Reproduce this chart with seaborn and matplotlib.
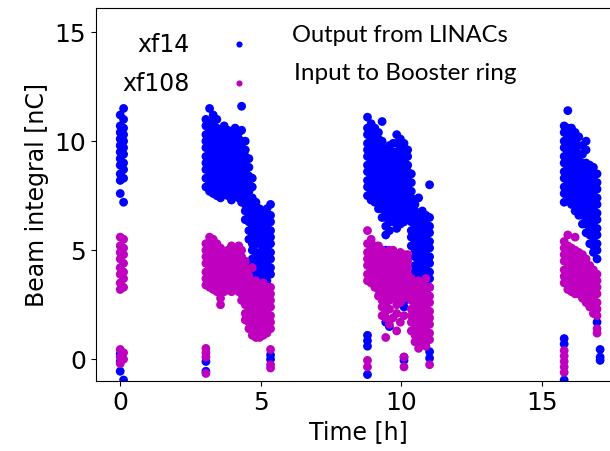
import numpy as np
import pandas as pd
import seaborn as sns
import matplotlib.pyplot as plt

r1_t = [0.0, 0.12]
r1_xf14 = [
    [7.6, 8.2, 8.5, 8.9, 9.2, 9.5, 9.8, 10.1, 10.4, 10.7, 11.2, -0.1, -0.55, 0.25],
    [7.2, 8.3, 8.7, 9.0, 9.4, 9.7, 10.0, 10.3, 10.6, 11.0, 11.5, -0.95],
]
r1_xf108 = [
    [3.2, 3.5, 3.9, 4.2, 4.6, 4.9, 5.2, 5.6, 0.45, 0.1, -0.2],
    [3.3, 3.7, 4.0, 4.4, 4.8, 5.1, 5.5, 0.3, 0.0],
]

r2_t = [3.05, 3.18, 3.31, 3.44, 3.57, 3.70, 3.83, 3.96, 4.09, 4.22,
        4.32, 4.45, 4.58, 4.70, 4.83, 4.96, 5.09, 5.22, 5.35]
r2_xf14 = [
    [7.9, 8.3, 8.7, 9.0, 9.3, 9.7, 10.0, 10.3, 10.7, 11.0, -0.1, -0.55],
    [7.7, 8.1, 8.4, 8.8, 9.1, 9.5, 9.8, 10.2, 10.5, 10.9, 11.5],
    [7.6, 8.0, 8.4, 8.7, 9.0, 9.4, 9.7, 10.1, 10.4, 10.8, 11.2],
    [7.5, 7.9, 8.2, 8.6, 8.9, 9.3, 9.6, 9.9, 10.3, 10.6, 11.0],
    [7.4, 7.8, 8.1, 8.5, 8.8, 9.2, 9.5, 9.8, 10.2, 10.5],
    [7.6, 8.0, 8.3, 8.7, 9.0, 9.4, 9.7, 10.0, 10.4, 10.7],
    [7.5, 7.9, 8.2, 8.6, 8.9, 9.2, 9.6, 9.9, 10.3, 10.5],
    [7.3, 7.7, 8.1, 8.4, 8.7, 9.1, 9.4, 9.8, 10.1, 10.4],
    [7.5, 7.9, 8.2, 8.6, 8.9, 9.3, 9.6, 9.9, 10.3, 10.6],
    [7.4, 7.8, 8.1, 8.5, 8.8, 9.1, 9.5, 9.8, 10.1, 10.4],
    [7.2, 7.6, 8.0, 8.3, 8.7, 9.0, 9.4, 9.7, 10.0, 10.5, 11.6],
    [6.4, 6.8, 7.1, 7.5, 7.9, 8.2, 8.6, 8.9, 9.3, 9.6, 10.0],
    [5.5, 5.9, 6.3, 6.6, 7.0, 7.3, 7.7, 8.0, 8.4, 8.8, 9.2],
    [4.3, 4.6, 5.0, 5.3, 5.7, 6.0, 6.4, 6.8, 7.1, 7.4, 7.9, 8.3],
    [3.6, 3.9, 4.2, 4.6, 4.9, 5.3, 5.6, 6.0, 6.3, 6.7, 7.0, 7.2],
    [3.6, 3.9, 4.3, 4.6, 4.9, 5.3, 5.6, 5.9, 6.3, 6.6, 6.9],
    [3.7, 4.0, 4.3, 4.7, 5.0, 5.4, 5.7, 6.1, 6.4, 6.7],
    [3.6, 4.0, 4.4, 4.7, 5.1, 5.4, 5.8, 6.1, 6.5, 6.9],
    [3.9, 4.2, 4.6, 4.9, 5.3, 5.6, 5.9, 6.3, 6.6, 7.1, 0.2, 0.0],
]
r2_xf108 = [
    [3.4, 3.7, 4.0, 4.4, 4.7, 5.0, 5.3, 0.5, 0.3, 0.1, -0.65],
    [3.3, 3.6, 3.9, 4.2, 4.6, 4.9, 5.2, 5.6],
    [3.2, 3.5, 3.8, 4.2, 4.5, 4.8, 5.1, 5.5],
    [3.1, 3.4, 3.7, 4.1, 4.4, 4.7, 5.0, 5.3],
    [2.5, 2.8, 3.2, 3.5, 3.8, 4.1, 4.5, 4.8, 5.1],
    [3.1, 3.4, 3.8, 4.1, 4.4, 4.7, 4.9],
    [3.2, 3.5, 3.8, 4.1, 4.4, 4.7, 5.0],
    [3.1, 3.4, 3.7, 4.0, 4.4, 4.7, 5.0, 5.2],
    [3.2, 3.5, 3.8, 4.2, 4.5, 4.8, 5.1],
    [3.1, 3.4, 3.8, 4.1, 4.4, 4.8, 5.2],
    [2.7, 3.0, 3.4, 3.7, 4.0, 4.4, 4.7, 5.0],
    [1.8, 2.1, 2.5, 2.8, 3.2, 3.5, 3.8, 4.2, 4.5],
    [1.4, 1.7, 2.1, 2.4, 2.8, 3.1, 3.4, 3.8, 4.1],
    [1.1, 1.4, 1.8, 2.1, 2.5, 2.8, 3.1, 3.5, 4.2],
    [1.0, 1.3, 1.6, 2.0, 2.3, 2.6, 3.0, 3.3, 3.6],
    [1.0, 1.3, 1.7, 2.0, 2.3, 2.7, 3.0, 3.4],
    [1.1, 1.4, 1.8, 2.1, 2.5, 2.8, 3.1, 3.5],
    [1.2, 1.5, 1.9, 2.2, 2.6, 2.9, 3.3],
    [1.4, 1.7, 2.0, 2.4, 2.7, 3.0, 3.3, 0.45, -0.25, -0.4],
]

r3_t = [8.80, 8.93, 9.06, 9.19, 9.32, 9.45, 9.58, 9.71, 9.84, 9.97,
        10.10, 10.23, 10.36, 10.49, 10.62, 10.75, 10.88, 11.01]
r3_xf14 = [
    [7.5, 7.9, 8.2, 8.6, 8.9, 9.3, 9.6, 9.9, 10.3, 10.6, 11.1, 1.1, 0.85, 0.6, -0.7],
    [7.3, 7.7, 8.0, 8.4, 8.7, 9.1, 9.4, 9.8, 10.1, 10.5, 10.8],
    [7.2, 7.5, 7.9, 8.2, 8.6, 8.9, 9.3, 9.6, 10.0, 10.3, 10.6],
    [6.9, 7.3, 7.6, 8.0, 8.3, 8.7, 9.0, 9.4, 9.7, 10.1, 10.4],
    [6.5, 6.9, 7.2, 7.6, 7.9, 8.3, 8.6, 9.0, 9.3, 9.7, 10.0, 10.9],
    [5.7, 6.1, 6.5, 6.8, 7.2, 7.5, 7.9, 8.2, 8.6, 8.9, 9.3, 9.6, 5.0, 1.7],
    [5.9, 6.3, 6.6, 7.0, 7.3, 7.7, 8.0, 8.4, 8.7, 9.1, 9.4, 9.8, 1.5],
    [6.3, 6.7, 7.0, 7.4, 7.7, 8.1, 8.4, 8.8, 9.1, 9.5, 9.9],
    [6.0, 6.4, 6.7, 7.1, 7.4, 7.8, 8.1, 8.5, 8.8, 9.2, 9.5, 9.9, 10.3],
    [6.2, 6.5, 6.9, 7.2, 7.6, 7.9, 8.3, 8.6, 9.0, 9.3, 9.7, 10.1],
    [6.3, 6.7, 7.0, 7.4, 7.7, 8.1, 8.4, 8.8, 9.1, 9.5, 9.9, 2.4, 2.65, 0.1, -0.05],
    [6.5, 6.8, 7.2, 7.5, 7.9, 8.2, 8.6, 8.9, 9.3, 9.6],
    [5.2, 5.6, 5.9, 6.3, 6.6, 7.0, 7.4, 7.7, 8.1, 8.5],
    [3.3, 3.6, 4.0, 4.3, 4.7, 5.0, 5.4, 5.7, 6.1, 6.4, 6.8, 7.1],
    [3.0, 3.3, 3.7, 4.0, 4.4, 4.7, 5.1, 5.4, 5.8, 6.1, 6.5, 7.4],
    [2.9, 3.2, 3.6, 3.9, 4.3, 4.6, 5.0, 5.3, 5.7, 6.0, 6.4, 6.8],
    [3.0, 3.4, 3.7, 4.1, 4.4, 4.8, 5.1, 5.5, 5.8, 6.2, 6.6],
    [3.3, 3.7, 4.0, 4.4, 4.7, 5.1, 5.4, 5.8, 6.1, 6.5, 8.0, 0.35, 0.05],
]
r3_xf108 = [
    [3.6, 3.9, 4.3, 4.6, 4.9, 5.3, 5.9, -0.05, -0.35],
    [3.5, 3.8, 4.1, 4.5, 4.8, 5.1, 5.5],
    [3.3, 3.6, 3.9, 4.3, 4.6, 4.9, 5.2],
    [2.9, 3.2, 3.5, 3.9, 4.2, 4.5, 4.9, 5.2],
    [2.0, 2.4, 2.7, 3.0, 3.4, 3.7, 4.0, 4.4, 4.7, 5.0],
    [1.0, 1.9, 2.2, 2.6, 2.9, 3.2, 3.6, 3.9, 4.2, 4.6, 4.9],
    [1.6, 2.3, 2.7, 3.0, 3.3, 3.7, 4.0, 4.3, 4.7, 5.0],
    [1.9, 2.8, 3.1, 3.4, 3.8, 4.1, 4.4, 4.8, 5.0],
    [1.3, 2.1, 2.5, 2.8, 3.2, 3.5, 3.8, 4.2, 4.5, 4.8],
    [1.7, 2.6, 2.9, 3.2, 3.6, 3.9, 4.2, 4.6, 4.9],
    [2.0, 2.8, 3.1, 3.5, 3.8, 4.1, 4.5, 4.8, 0.1, -0.35],
    [2.9, 3.2, 3.5, 3.9, 4.2, 4.5, 4.8],
    [1.3, 1.7, 2.0, 2.3, 2.7, 3.0, 3.3, 3.7],
    [0.8, 1.1, 1.5, 1.8, 2.1, 2.5, 2.8, 3.1, 3.5],
    [0.5, 0.8, 1.2, 1.5, 1.8, 2.2, 2.5, 2.8, 3.2, 3.6],
    [0.7, 1.0, 1.4, 1.7, 2.0, 2.4, 2.7, 3.0, 3.4],
    [0.6, 0.9, 1.3, 1.6, 1.9, 2.3, 2.6, 2.9, 3.3, 3.7],
    [0.9, 1.2, 1.6, 1.9, 2.2, 2.6, 2.9, 3.3, -0.25],
]

r4_t = [15.80, 15.93, 16.06, 16.19, 16.32, 16.45, 16.58, 16.71, 16.84, 16.97, 17.08]
r4_xf14 = [
    [7.2, 7.6, 7.9, 8.3, 8.6, 9.0, 9.3, 9.7, 10.0, 10.4, 10.7, 0.95, 0.7, -0.95],
    [7.4, 7.8, 8.1, 8.5, 8.8, 9.2, 9.5, 9.9, 10.2, 10.6, 11.4],
    [7.1, 7.5, 7.8, 8.2, 8.5, 8.9, 9.2, 9.6, 9.9, 10.3, 10.6],
    [6.8, 7.2, 7.5, 7.9, 8.2, 8.6, 8.9, 9.3, 9.6, 10.0, 10.4],
    [6.6, 7.0, 7.3, 7.7, 8.0, 8.4, 8.7, 9.1, 9.4, 9.8, 10.2],
    [6.2, 6.6, 6.9, 7.3, 7.6, 8.0, 8.3, 8.7, 9.0, 9.4, 9.8],
    [5.8, 6.2, 6.5, 6.9, 7.2, 7.6, 7.9, 8.3, 8.6, 9.0, 9.6, 10.0],
    [5.3, 5.7, 6.0, 6.4, 6.7, 7.1, 7.4, 7.8, 8.1, 8.5, 8.9],
    [4.9, 5.2, 5.6, 5.9, 6.3, 6.6, 7.0, 7.3, 7.7, 8.0, 8.4, 8.8],
    [4.6, 5.0, 5.3, 5.7, 6.0, 6.4, 6.7, 7.1, 7.4, 7.8, 8.1, 8.5, 1.7],
    [0.45, 0.1, -0.05],
]
r4_xf108 = [
    [3.5, 3.8, 4.1, 4.5, 4.8, 5.1, 5.4, 0.4, 0.15, -0.1, -0.35, -0.6],
    [3.2, 3.5, 3.9, 4.2, 4.5, 4.9, 5.2, 5.7],
    [3.1, 3.4, 3.8, 4.1, 4.4, 4.8, 5.1],
    [3.0, 3.3, 3.7, 4.0, 4.3, 4.7, 5.0, 5.6],
    [3.0, 3.4, 3.7, 4.0, 4.4, 4.7, 4.9],
    [2.8, 3.1, 3.5, 3.8, 4.1, 4.5, 4.8],
    [2.6, 2.9, 3.2, 3.6, 3.9, 4.2, 4.6],
    [2.4, 2.7, 3.0, 3.4, 3.7, 4.0, 4.3],
    [2.1, 2.5, 2.8, 3.1, 3.5, 3.8, 4.1],
    [1.2, 1.4, 2.0, 2.3, 2.6, 3.0, 3.3, 3.6, 3.9],
    [],
]

runs = [(r1_t, r1_xf14, r1_xf108), (r2_t, r2_xf14, r2_xf108),
        (r3_t, r3_xf14, r3_xf108), (r4_t, r4_xf14, r4_xf108)]

rows = []
for name, idx in [("xf14", 1), ("xf108", 2)]:
    for run in runs:
        for t, vals in zip(run[0], run[idx]):
            for v in vals:
                rows.append({"time": t, "charge": v, "signal": name})
df = pd.DataFrame(rows)

fig = plt.figure(figsize=(6.1, 4.51), dpi=100)
ax = fig.add_axes([0.157, 0.155, 0.86, 0.827])

sns.scatterplot(
    data=df, x="time", y="charge", hue="signal",
    palette={"xf14": "b", "xf108": "m"},
    s=40, linewidth=0, ax=ax,
)

ax.set_xlim(-0.87, 17.8)
ax.set_ylim(-1.0, 16.1)
ax.set_xticks([0, 5, 10, 15])
ax.set_yticks([0, 5, 10, 15])
ax.tick_params(labelsize=18)
ax.set_xlabel("Time [h]", fontsize=17)
ax.set_ylabel("Beam integral [nC]", fontsize=17)
ax.spines["right"].set_visible(False)

ax.legend(
    loc="upper left", bbox_to_anchor=(0.01, 0.99), frameon=False,
    markerfirst=False, fontsize=17, markerscale=0.7, handletextpad=1.1,
    labelspacing=0.65,
)

fig.text(292 / 610, 1 - 35 / 451, "Output from LINACs", fontsize=17,
         family="Lato", va="center")
fig.text(294 / 610, 1 - 74 / 451, "Input to Booster ring", fontsize=17.5,
         family="Lato", va="center")

plt.savefig("out.png", dpi=100)
